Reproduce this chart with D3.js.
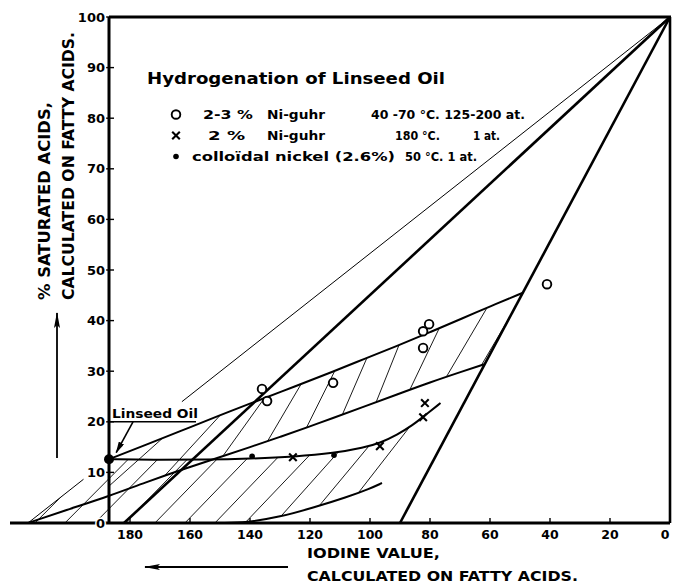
<!DOCTYPE html>
<html><head><meta charset="utf-8">
<script src="https://cdn.jsdelivr.net/npm/d3@7"></script>
<style>
body{margin:0;background:#fff}
svg{display:block}
text{font-family:"DejaVu Sans",sans-serif;font-weight:bold;fill:#000}
</style></head><body>
<svg id="c" width="673" height="587"></svg>
<script>
// ---------- data ----------
const xTicks = [180,160,140,120,100,80,60,40,20,0];
const yTicks = [0,10,20,30,40,50,60,70,80,90,100];

const linseed = [187, 12.6];          // linseed oil starting point
const stearic = [0, 100];             // fully hydrogenated corner
const thinLineFoot = [214, 0];        // thin line: stearic -> linseed -> foot
const thinGapIV = [195.5, 162.7];     // thin line interrupted between these IVs
const thickLeftFoot = [182, 0];
const thickRightFoot = [90, 0];

const upperIV  = [187, 175, 163, 150, 140, 125, 112, 102, 91, 80, 69, 60, 49];
const upperSat = [12.6, 15.4, 18.2, 21.3, 23.6, 27.0, 30.0, 32.4, 35.0, 37.7, 40.5, 42.8, 45.5];

const middleIV  = [214, 200, 187, 175, 161, 150, 140, 130, 120, 113, 102, 91, 80, 69, 61.7];
const middleSat = [0, 2.8, 5.3, 8.0, 10.9, 13.0, 15.0, 17.0, 19.1, 20.6, 23.0, 25.4, 27.8, 30.0, 31.4];

const crossCurveIV  = [187, 170, 155, 140, 125, 112, 102, 96.7, 91, 85.6, 82.3, 76.5];
const crossCurveSat = [12.6, 12.5, 12.5, 12.7, 13.1, 13.8, 14.9, 15.8, 17.4, 19.4, 21.0, 23.7];

const lowerIV  = [150, 141, 130, 119, 107.7, 100, 96];
const lowerSat = [0, 0.1, 1.2, 3.0, 5.1, 6.8, 7.9];

const ringIV  = [136, 134.3, 112.3, 82.3, 80.3, 82.3, 41];
const ringSat = [26.5, 24.1, 27.7, 37.9, 39.3, 34.6, 47.2];
const crossIV  = [125.7, 96.7, 82.3, 81.7];
const crossSat = [13.0, 15.2, 20.9, 23.7];
const dotIV  = [139.3, 112];
const dotSat = [13.2, 13.4];

// hatching: anchor IVs and slope (px rise per px run)
const upperHatchIV = [219.4, 210, 200.6, 191.2, 181.8, 172.4, 163, 153.6, 144.2, 134.8, 125.4, 116, 106.6, 97.2, 87.8, 78.4, 69, 59.6, 50.2];
const upperHatchAnchorSat = 25;
const upperHatchSlopeIV = [210, 150, 107, 97, 88, 79, 40];
const upperHatchSlope   = [0.8, 0.9, 2.3, 2.5, 2.1, 1.7, 1.7];
const lowerHatchIV = [231.7, 221.7, 211.7, 201.7, 191.7, 181.7, 171.7, 161.7, 151.7, 141.7, 131.7, 121.7, 111.7, 101.7, 91.7];
const lowerHatchAnchorSat = 0;
const lowerHatchSlopeIV = [210, 140, 110, 90];
const lowerHatchSlope   = [1.0, 1.05, 1.3, 1.6];
const lowerBandRightIV = 82.3;

const linseedLabel = "Linseed Oil";
const labelUnderlineIV = [187, 158];
const labelUnderlineSat = 20;
const arrowFrom = [179, 20];
const arrowTo = [184.6, 13.9];

const title = "Hydrogenation of Linseed Oil";
const legendRows = [
  {key:"ring",  parts:[["2-3 %",203,50],["Ni-guhr",267,58],["40 -70 °C. 125-200 at.",371,154]]},
  {key:"cross", parts:[["2 %",208,37],["Ni-guhr",267,58],["180 °C.",395,45],["1 at.",473,27]]},
  {key:"dot",   parts:[["colloïdal nickel (2.6%)",192,203],["50 °C. 1 at.",405,72]]}
];
const yTitle = ["% SATURATED ACIDS,", "CALCULATED ON FATTY ACIDS."];
const xTitle = ["IODINE VALUE,", "CALCULATED ON FATTY ACIDS."];

// ---------- drawing ----------
const svg = d3.select("#c");
const x = d3.scaleLinear().domain([220, 0]).range([10, 670]);
const y = d3.scaleLinear().domain([0, 100]).range([523, 17]);
const zip = (a,b)=>a.map((v,i)=>[v,b[i]]);
const straight = d3.line().x(d=>x(d[0])).y(d=>y(d[1]));
const smooth = d3.line().x(d=>x(d[0])).y(d=>y(d[1])).curve(d3.curveBasis);
const asL = s => s.replace(/^M/, "L");

const upperPts = zip(upperIV, upperSat);
const middlePts = zip(middleIV, middleSat);
const crossCurvePts = zip(crossCurveIV, crossCurveSat);
const lowerPts = zip(lowerIV, lowerSat);

const defs = svg.append("defs");
defs.append("marker").attr("id","ah").attr("viewBox","0 0 12 6").attr("refX",11).attr("refY",3)
  .attr("markerWidth",12).attr("markerHeight",6).attr("markerUnits","userSpaceOnUse").attr("orient","auto")
  .append("path").attr("d","M0,0L12,3L0,6z").attr("fill","#000");
defs.append("marker").attr("id","ah2").attr("viewBox","0 0 16 6").attr("refX",15).attr("refY",3)
  .attr("markerWidth",16).attr("markerHeight",6).attr("markerUnits","userSpaceOnUse").attr("orient","auto")
  .append("path").attr("d","M0,0L16,3L0,6L3,3z").attr("fill","#000");

// clip regions for hatching
const upperBand = smooth(upperPts) + asL(smooth(middlePts.filter(d=>d[0] <= linseed[0]).reverse())) + "Z";
const lowerBand = straight([thinLineFoot, linseed]) +
  asL(smooth(crossCurvePts.filter(d=>d[0] >= lowerBandRightIV))) +
  asL(smooth(lowerPts.slice().reverse())) + "Z";
defs.append("clipPath").attr("id","cu").append("path").attr("d", upperBand);
defs.append("clipPath").attr("id","cl").append("path").attr("d", lowerBand);

const pxIV = Math.abs(x(1)-x(0)), pxSat = Math.abs(y(1)-y(0));
function hatch(anchors, anchorSat, slopeIV, slopeVals, clip){
  const sl = d3.scaleLinear().domain(slopeIV).range(slopeVals).clamp(true);
  const g = svg.append("g").attr("clip-path", `url(#${clip})`);
  anchors.forEach(a=>{
    const k = sl(a) * pxIV / pxSat;
    const seg = [[a+90, anchorSat - k*90], [a-90, anchorSat + k*90]];
    g.append("path").attr("d", straight(seg)).attr("stroke","#000").attr("stroke-width",0.9).attr("fill","none");
  });
}
hatch(upperHatchIV, upperHatchAnchorSat, upperHatchSlopeIV, upperHatchSlope, "cu");
hatch(lowerHatchIV, lowerHatchAnchorSat, lowerHatchSlopeIV, lowerHatchSlope, "cl");

// straight reference lines
const thinAt = iv => [iv, d3.interpolateNumber(stearic[1], thinLineFoot[1])((iv - stearic[0])/(thinLineFoot[0]-stearic[0]))];
svg.append("path").attr("d", straight([thinLineFoot, thinAt(thinGapIV[0])])).attr("stroke","#000").attr("stroke-width",1).attr("fill","none");
svg.append("path").attr("d", straight([thinAt(thinGapIV[1]), stearic])).attr("stroke","#000").attr("stroke-width",1).attr("fill","none");
svg.append("path").attr("d", straight([thickLeftFoot, stearic])).attr("stroke","#000").attr("stroke-width",2.6).attr("fill","none");
svg.append("path").attr("d", straight([thickRightFoot, stearic])).attr("stroke","#000").attr("stroke-width",2.6).attr("fill","none");

// curves
[upperPts, middlePts, crossCurvePts, lowerPts].forEach(p=>{
  svg.append("path").attr("d", smooth(p)).attr("stroke","#000").attr("stroke-width",2).attr("fill","none");
});

// linseed label
svg.append("path").attr("d", straight(labelUnderlineIV.map(v=>[v,labelUnderlineSat]))).attr("stroke","#000").attr("stroke-width",1.6);
svg.append("text").attr("x", x(labelUnderlineIV[0])+3).attr("y", y(labelUnderlineSat)-4)
  .attr("font-size",13).attr("textLength",86).attr("lengthAdjust","spacingAndGlyphs").text(linseedLabel);
svg.append("path").attr("d", straight([arrowFrom, arrowTo])).attr("stroke","#000").attr("stroke-width",1.6).attr("marker-end","url(#ah)");

// markers
function ring(g, cx, cy){ g.append("circle").attr("cx",cx).attr("cy",cy).attr("r",4.3).attr("fill","#fff").attr("stroke","#000").attr("stroke-width",1.9); }
function cross(g, cx, cy){ const s=3.8; g.append("path").attr("d",`M${cx-s},${cy-s}L${cx+s},${cy+s}M${cx-s},${cy+s}L${cx+s},${cy-s}`).attr("stroke","#000").attr("stroke-width",2.1); }
function dot(g, cx, cy){ g.append("circle").attr("cx",cx).attr("cy",cy).attr("r",2.8).attr("fill","#000"); }
const mg = svg.append("g");
zip(ringIV, ringSat).forEach(d=>ring(mg, x(d[0]), y(d[1])));
zip(crossIV, crossSat).forEach(d=>cross(mg, x(d[0]), y(d[1])));
zip(dotIV, dotSat).forEach(d=>dot(mg, x(d[0]), y(d[1])));
mg.append("circle").attr("cx",x(linseed[0])).attr("cy",y(linseed[1])).attr("r",5).attr("fill","#000");

// frame and axes
svg.append("line").attr("x1",x(220)).attr("x2",x(0)).attr("y1",y(0)).attr("y2",y(0)).attr("stroke","#000").attr("stroke-width",3);
svg.append("line").attr("x1",x(linseed[0])).attr("x2",x(linseed[0])).attr("y1",y(0)).attr("y2",y(100)).attr("stroke","#000").attr("stroke-width",3);
svg.append("line").attr("x1",x(linseed[0])).attr("x2",x(0)+1).attr("y1",y(100)).attr("y2",y(100)).attr("stroke","#000").attr("stroke-width",3);
svg.append("line").attr("x1",x(0)).attr("x2",x(0)).attr("y1",y(100)).attr("y2",y(0)).attr("stroke","#000").attr("stroke-width",2.6);

const axX = svg.append("g");
xTicks.forEach(t=>{
  axX.append("line").attr("x1",x(t)).attr("x2",x(t)).attr("y1",y(0)).attr("y2",y(0)-5).attr("stroke","#000").attr("stroke-width",1.4);
  axX.append("text").attr("x",Math.min(x(t), 665)).attr("y",y(0)+16).attr("text-anchor","middle").attr("font-size",12.5).text(t);
});
const axY = svg.append("g");
yTicks.forEach(t=>{
  axY.append("line").attr("x1",x(linseed[0])-3).attr("x2",x(linseed[0])+5).attr("y1",y(t)).attr("y2",y(t)).attr("stroke","#000").attr("stroke-width",1.4);
  axY.append("text").attr("x",x(linseed[0])-4).attr("y",y(t)).attr("dy","0.36em").attr("text-anchor","end").attr("font-size",13)
    .attr("stroke","#fff").attr("stroke-width",3).attr("paint-order","stroke").text(t);
});

// title and legend
svg.append("text").attr("x",147).attr("y",84).attr("font-size",16).attr("textLength",298).attr("lengthAdjust","spacingAndGlyphs").text(title);
const rowY = [119, 140, 161];
const keyFn = {ring, cross, dot};
legendRows.forEach((r,i)=>{
  keyFn[r.key](svg, 176, rowY[i]-4.5);
  r.parts.forEach(p=>{
    svg.append("text").attr("x",p[1]).attr("y",rowY[i]).attr("font-size",12.5)
      .attr("textLength",p[2]).attr("lengthAdjust","spacingAndGlyphs").text(p[0]);
  });
});

// axis titles
svg.append("text").attr("transform","translate(50,300) rotate(-90)").attr("font-size",15).attr("textLength",198).attr("lengthAdjust","spacingAndGlyphs").text(yTitle[0]);
svg.append("text").attr("transform","translate(74,300) rotate(-90)").attr("font-size",15).attr("textLength",268).attr("lengthAdjust","spacingAndGlyphs").text(yTitle[1]);
svg.append("text").attr("x",307).attr("y",558).attr("font-size",14.5).attr("textLength",133).attr("lengthAdjust","spacingAndGlyphs").text(xTitle[0]);
svg.append("text").attr("x",307).attr("y",581).attr("font-size",14.5).attr("textLength",271).attr("lengthAdjust","spacingAndGlyphs").text(xTitle[1]);

// direction arrows
svg.append("line").attr("x1",57).attr("y1",458).attr("x2",57).attr("y2",313).attr("stroke","#000").attr("stroke-width",1.8).attr("marker-end","url(#ah2)");
svg.append("line").attr("x1",288).attr("y1",567).attr("x2",145).attr("y2",567).attr("stroke","#000").attr("stroke-width",1.8).attr("marker-end","url(#ah2)");
</script>
</body></html>
